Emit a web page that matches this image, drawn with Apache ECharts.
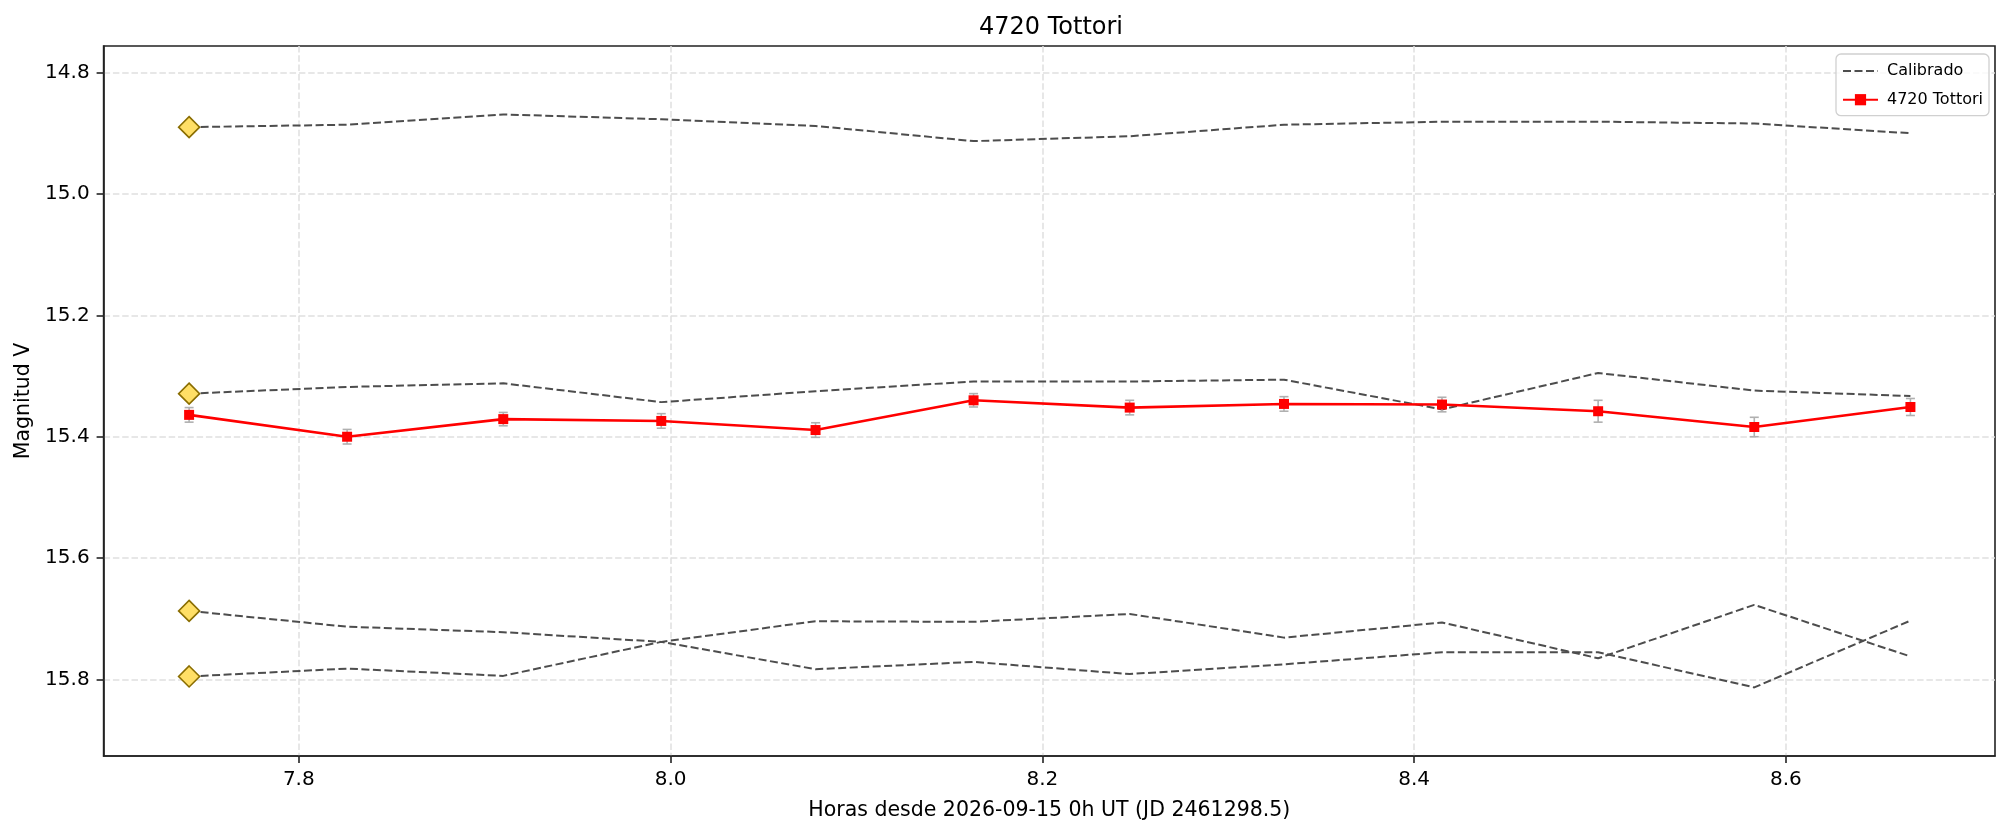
<!DOCTYPE html>
<html>
<head>
<meta charset="utf-8">
<script src="https://cdn.jsdelivr.net/npm/echarts@6/dist/echarts.min.js"></script>
<style>
html,body{margin:0;padding:0;background:#fff;}
#chart{width:2012px;height:834px;}
</style>
</head>
<body>
<div id="chart"></div>
<script>
// Data
const times = [7.741, 7.826, 7.910, 7.995, 8.078, 8.163, 8.247, 8.330, 8.415, 8.499, 8.583, 8.667];
const tottoriMag = [15.364, 15.400, 15.371, 15.374, 15.389, 15.340, 15.352, 15.346, 15.347, 15.358, 15.384, 15.351];
const tottoriErr = [0.012, 0.012, 0.011, 0.012, 0.012, 0.011, 0.012, 0.012, 0.012, 0.018, 0.016, 0.014];
const calA = [14.890, 14.886, 14.869, 14.877, 14.888, 14.913, 14.905, 14.886, 14.881, 14.881, 14.884, 14.900];
const calB = [15.329, 15.318, 15.312, 15.343, 15.325, 15.309, 15.309, 15.306, 15.355, 15.295, 15.324, 15.333];
const calC = [15.687, 15.713, 15.722, 15.738, 15.704, 15.705, 15.692, 15.731, 15.706, 15.765, 15.677, 15.762];
const calD = [15.795, 15.782, 15.794, 15.738, 15.783, 15.771, 15.791, 15.775, 15.755, 15.755, 15.813, 15.703];
const xTicks = [7.8, 8.0, 8.2, 8.4, 8.6];
const yTicks = [14.8, 15.0, 15.2, 15.4, 15.6, 15.8];
const titleText = '4720 Tottori';
const xName = 'Horas desde 2026-09-15 0h UT (JD 2461298.5)';
const yName = 'Magnitud V';
const calName = 'Calibrado';
const targetName = '4720 Tottori';

const FONT = 'DejaVu Sans';
const chart = echarts.init(document.getElementById('chart'), null, {renderer: 'canvas'});

function calSeries(arr) {
  return {
    name: calName,
    type: 'line',
    symbol: 'none',
    showSymbol: true,
    showAllSymbol: true,
    z: 3,
    lineStyle: {color: '#4d4d4d', width: 2, type: [8, 3.5]},
    itemStyle: {color: '#4d4d4d'},
    emphasis: {disabled: true},
    data: arr.map((v, i) => i === 0 ? {
      value: [times[i], v],
      symbol: 'diamond',
      symbolSize: [21, 21],
      itemStyle: {color: '#ffdf66', borderColor: '#8a6d00', borderWidth: 1.6}
    } : [times[i], v])
  };
}

const errData = times.map((t, i) => [t, tottoriMag[i], tottoriErr[i]]);

const option = {
  backgroundColor: '#ffffff',
  animation: false,
  title: {
    text: titleText,
    left: 979,
    top: 16,
    padding: 0,
    textStyle: {fontFamily: FONT, fontSize: 24, fontWeight: 'normal', color: '#000'}
  },
  legend: {
    orient: 'vertical',
    right: 23,
    top: 54,
    itemWidth: 35,
    itemHeight: 14,
    itemGap: 12.7,
    padding: [9, 6, 8, 6],
    backgroundColor: 'rgba(255,255,255,0.8)',
    borderColor: '#d0d0d0',
    borderWidth: 1.3,
    borderRadius: 5,
    data: [
      {name: calName, itemStyle: {opacity: 0, borderWidth: 0}},
      {name: targetName}
    ],
    textStyle: {fontFamily: FONT, fontSize: 16, color: '#000', padding: [0, 0, 0, 4]}
  },
  grid: {
    left: 103.6, right: 17, top: 46, bottom: 78,
    show: true, borderColor: '#222', borderWidth: 1.6, backgroundColor: 'transparent',
    containLabel: false
  },
  xAxis: {
    type: 'value',
    min: 7.695,
    max: 8.7125,
    name: xName,
    nameLocation: 'middle',
    nameGap: 44,
    nameTextStyle: {fontFamily: FONT, fontSize: 20.5, color: '#000'},
    axisLine: {show: true, onZero: false, lineStyle: {color: '#222', width: 1.6}},
    axisTick: {show: true, inside: false, length: 7, lineStyle: {color: '#222', width: 1.6}, customValues: xTicks},
    axisLabel: {show: true, margin: 14, fontFamily: FONT, fontSize: 20, color: '#000',
      customValues: xTicks, formatter: v => Number(v).toFixed(1)},
    splitLine: {show: true, lineStyle: {color: '#e0e0e0', width: 1.5, type: [6.5, 2.8]}}
  },
  yAxis: {
    type: 'value',
    inverse: true,
    min: 14.7563,
    max: 15.926,
    name: yName,
    nameLocation: 'middle',
    nameGap: 66,
    nameRotate: 90,
    nameTextStyle: {fontFamily: FONT, fontSize: 20.5, color: '#000'},
    axisLine: {show: true, onZero: false, lineStyle: {color: '#222', width: 1.6}},
    axisTick: {show: true, inside: false, length: 7, lineStyle: {color: '#222', width: 1.6}, customValues: yTicks},
    axisLabel: {show: true, margin: 14, fontFamily: FONT, fontSize: 20, color: '#000',
      customValues: yTicks, formatter: v => Number(v).toFixed(1)},
    splitLine: {show: true, lineStyle: {color: '#e0e0e0', width: 1.5, type: [6.5, 2.8]}}
  },
  series: [
    calSeries(calA),
    calSeries(calB),
    calSeries(calC),
    calSeries(calD),
    {
      name: 'errores',
      type: 'custom',
      z: 4,
      silent: true,
      data: errData,
      renderItem: function (params, api) {
        const x = api.value(0), y = api.value(1), e = api.value(2);
        const p1 = api.coord([x, y - e]);
        const p2 = api.coord([x, y + e]);
        const cw = 4.5;
        const style = {stroke: '#b0b0b0', lineWidth: 1.6, fill: null};
        return {
          type: 'group',
          children: [
            {type: 'line', shape: {x1: p1[0], y1: p1[1], x2: p2[0], y2: p2[1]}, style: style},
            {type: 'line', shape: {x1: p1[0] - cw, y1: p1[1], x2: p1[0] + cw, y2: p1[1]}, style: style},
            {type: 'line', shape: {x1: p2[0] - cw, y1: p2[1], x2: p2[0] + cw, y2: p2[1]}, style: style}
          ]
        };
      }
    },
    {
      name: targetName,
      type: 'line',
      z: 5,
      symbol: 'rect',
      symbolSize: 10,
      showSymbol: true,
      lineStyle: {color: '#ff0000', width: 2.6},
      itemStyle: {color: '#ff0000'},
      emphasis: {disabled: true},
      data: times.map((t, i) => [t, tottoriMag[i]])
    }
  ]
};
chart.setOption(option);
</script>
</body>
</html>
